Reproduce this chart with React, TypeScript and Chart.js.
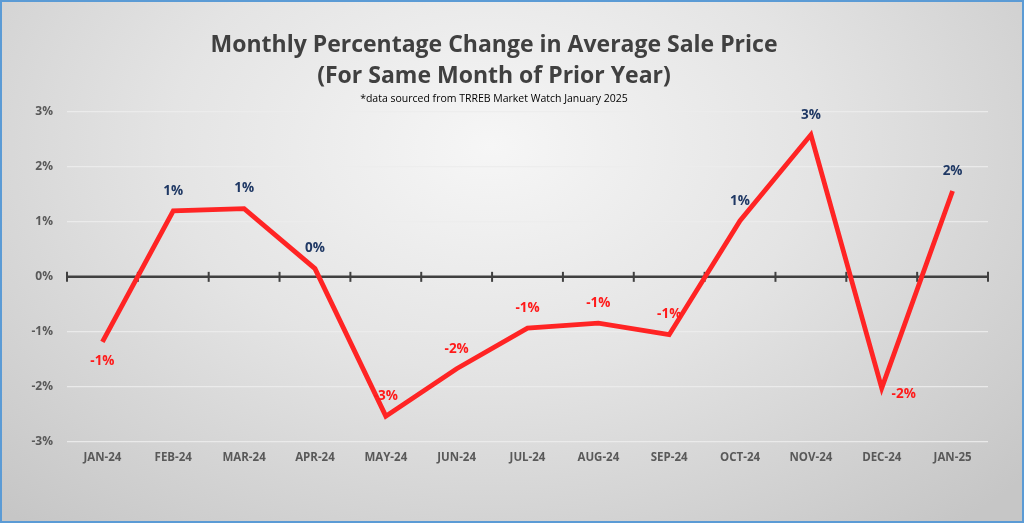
import React, { useEffect, useRef } from "react";
import { Chart, registerables } from "chart.js";

Chart.register(...registerables);

const months = ["JAN-24", "FEB-24", "MAR-24", "APR-24", "MAY-24", "JUN-24", "JUL-24", "AUG-24", "SEP-24", "OCT-24", "NOV-24", "DEC-24", "JAN-25"];
const pctChange = [-1.18, 1.2, 1.24, 0.15, -2.53, -1.67, -0.93, -0.84, -1.05, 1.02, 2.58, -2.02, 1.56];
const labelPlacement = ["below", "above", "above", "above", "above", "above", "above", "above", "above", "above", "above", "right", "above"];
const titleLines = ["Monthly Percentage Change in Average Sale Price", "(For Same Month of Prior Year)"];
const subtitleText = "*data sourced from TRREB Market Watch January 2025";

const FONT = "'Open Sans', 'DejaVu Sans', sans-serif";

const zeroLinePlugin = {
  id: "zeroLine",
  beforeDatasetsDraw(chart: any) {
    const { ctx, chartArea, scales } = chart;
    const y0 = scales.y.getPixelForValue(0);
    ctx.save();
    ctx.strokeStyle = "#404040";
    ctx.lineWidth = 2.5;
    ctx.beginPath();
    ctx.moveTo(chartArea.left, y0);
    ctx.lineTo(chartArea.right, y0);
    ctx.stroke();
    ctx.lineWidth = 2;
    const n = months.length;
    for (let i = 0; i <= n; i++) {
      const x = scales.x.getPixelForValue(i - 0.5);
      ctx.beginPath();
      ctx.moveTo(x, y0 - 5);
      ctx.lineTo(x, y0 + 5);
      ctx.stroke();
    }
    ctx.restore();
  },
};

const dataLabelPlugin = {
  id: "dataLabels",
  afterDatasetsDraw(chart: any) {
    const { ctx } = chart;
    const meta = chart.getDatasetMeta(0);
    ctx.save();
    ctx.font = `bold 13.5px ${FONT}`;
    ctx.textAlign = "center";
    ctx.textBaseline = "middle";
    meta.data.forEach((pt: any, i: number) => {
      const v = pctChange[i];
      const txt = `${Math.round(v)}%`;
      ctx.fillStyle = v >= 0 ? "#1F3864" : "#FF1A1A";
      let x = pt.x;
      let y = pt.y;
      const pos = labelPlacement[i];
      if (pos === "above") y -= 20;
      else if (pos === "below") y += 19;
      else if (pos === "right") {
        x += 22;
        y += 6;
      }
      ctx.fillText(txt, x, y);
    });
    ctx.restore();
  },
};

export default function App() {
  const ref = useRef<HTMLCanvasElement>(null);

  useEffect(() => {
    if (!ref.current) return;
    const chart = new Chart(ref.current, {
      type: "line",
      data: {
        labels: months,
        datasets: [
          {
            data: pctChange,
            borderColor: "#FF2424",
            borderWidth: 4.8,
            pointRadius: 0,
            tension: 0,
            fill: false,
          },
        ],
      },
      options: {
        responsive: false,
        animation: false,
        layout: { padding: { top: 0, right: 36, bottom: 0, left: 0 } },
        plugins: {
          legend: { display: false },
          tooltip: { enabled: false },
          title: {
            display: true,
            text: titleLines,
            color: "#404040",
            font: { family: FONT, size: 23, weight: "bold", lineHeight: 1.35 },
            padding: { top: 30, bottom: 1 },
          },
          subtitle: {
            display: true,
            text: subtitleText,
            color: "#000000",
            font: { family: FONT, size: 10.5, lineHeight: 1.2 },
            padding: { top: 0, bottom: 6 },
          },
        },
        scales: {
          x: {
            offset: true,
            grid: { display: false, drawTicks: false },
            border: { display: false },
            ticks: { color: "#595959", font: { family: FONT, size: 11.5, weight: "bold" }, padding: 9, maxRotation: 0 },
            afterFit(s: any) {
              s.height = 81;
            },
          },
          y: {
            min: -3,
            max: 3,
            grid: {
              drawTicks: false,
              color: (c: any) => (c.tick && c.tick.value === 0 ? "rgba(0,0,0,0)" : "rgba(236,236,236,0.9)"),
              lineWidth: 1.3,
            },
            border: { display: false },
            ticks: {
              stepSize: 1,
              color: "#595959",
              font: { family: FONT, size: 12, weight: "bold" },
              padding: 14,
              callback: (v: any) => `${v}%`,
            },
            afterFit(s: any) {
              s.width = 67;
            },
          },
        },
      },
      plugins: [zeroLinePlugin, dataLabelPlugin],
    });
    return () => chart.destroy();
  }, []);

  return (
    <div
      style={{
        position: "absolute",
        left: 0,
        top: 0,
        width: 1024,
        height: 523,
        background:
          "radial-gradient(ellipse 70% 95% at 48% 28%, #f6f6f6 0%, #e4e4e4 45%, #c6c6c6 100%)",
        overflow: "hidden",
      }}
    >
      <canvas ref={ref} width={1024} height={523} style={{ display: "block", position: "absolute", left: 0, top: 0 }} />
      <div
        style={{
          position: "absolute",
          left: 0,
          top: 0,
          width: 1024,
          height: 523,
          boxSizing: "border-box",
          border: "2px solid #5B9BD5",
          pointerEvents: "none",
        }}
      />
    </div>
  );
}
